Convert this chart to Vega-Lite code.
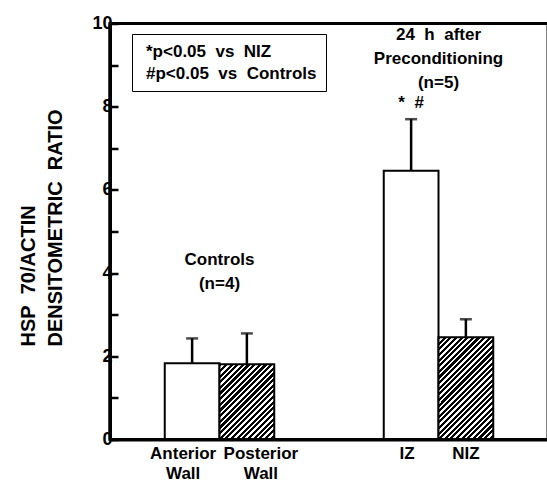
{
  "$schema": "https://vega.github.io/schema/vega-lite/v6.json",
  "width": 438,
  "height": 416,
  "autosize": {"type": "none"},
  "padding": {"left": 110, "top": 23.5, "right": 0, "bottom": 46},
  "config": {
    "font": "Liberation Sans",
    "view": {"stroke": "black", "strokeWidth": 3}
  },
  "datasets": {
    "bars": [
      {"cat": "Anterior Wall", "mean": 1.83, "upper": 2.43},
      {"cat": "Posterior Wall", "mean": 1.81, "upper": 2.55},
      {"cat": "IZ", "mean": 6.46, "upper": 7.70},
      {"cat": "NIZ", "mean": 2.46, "upper": 2.89}
    ],
    "edge": [{"cat": "_a"}]
  },
  "data": {"name": "bars"},
  "layer": [
    {
      "transform": [{"filter": "datum.cat === 'Anterior Wall' || datum.cat === 'IZ'"}],
      "mark": {"type": "bar", "fill": "white", "stroke": "black", "strokeWidth": 2},
      "encoding": {
        "x": {
          "field": "cat", "type": "nominal",
          "scale": {"domain": ["_a", "Anterior Wall", "Posterior Wall", "_b", "_c", "IZ", "NIZ", "_d"], "paddingInner": 0, "paddingOuter": 0},
          "axis": {
            "title": null, "ticks": false, "domainWidth": 3, "domainColor": "black",
            "labelExpr": "indexof(datum.value, '_') === 0 ? '' : split(datum.value, ' ')",
            "labelFontSize": 17, "labelFontWeight": "bold", "labelColor": "black",
            "labelLineHeight": 20, "labelPadding": 6, "labelAngle": 0, "labelBaseline": "top",
            "labelOffset": {"condition": [{"test": "datum.value === 'Anterior Wall'", "value": -9}, {"test": "datum.value === 'Posterior Wall'", "value": 14}, {"test": "datum.value === 'IZ'", "value": -4}], "value": 0}
          }
        },
        "y": {
          "field": "mean", "type": "quantitative",
          "scale": {"domain": [0, 10], "nice": false},
          "axis": {
            "title": ["HSP\u00a0 70/ACTIN", "DENSITOMETRIC\u00a0 RATIO"],
            "values": [0, 1, 2, 3, 4, 5, 6, 7, 8, 9, 10],
            "labelExpr": "datum.value % 2 === 0 ? datum.label : ''",
            "tickSize": -8, "tickWidth": 2.5, "tickColor": "black",
            "domainColor": "black", "domainWidth": 3, "grid": false,
            "labelFontSize": 18, "labelFontWeight": "bold", "labelColor": "black", "labelPadding": 6,
            "titleFontSize": 20, "titleFontWeight": "bold", "titleColor": "black", "titleLineHeight": 27,
            "titleX": -82, "titleY": 322.5, "titleAngle": -90, "titleAlign": "left", "titleBaseline": "middle"
          }
        }
      }
    },
    {
      "transform": [{"filter": "datum.cat === 'Posterior Wall'"}],
      "mark": {
        "type": "bar", "stroke": "black", "strokeWidth": 2,
        "fill": {
          "gradient": "linear", "x1": 0, "y1": 0, "x2": 0.8215, "y2": 1.1298,
          "stops": [
            {"offset": 0, "color": "#000"}, {"offset": 0.0239, "color": "#000"}, {"offset": 0.0239, "color": "#fff"}, {"offset": 0.0435, "color": "#fff"},
            {"offset": 0.0435, "color": "#000"}, {"offset": 0.0674, "color": "#000"}, {"offset": 0.0674, "color": "#fff"}, {"offset": 0.0870, "color": "#fff"},
            {"offset": 0.0870, "color": "#000"}, {"offset": 0.1109, "color": "#000"}, {"offset": 0.1109, "color": "#fff"}, {"offset": 0.1304, "color": "#fff"},
            {"offset": 0.1304, "color": "#000"}, {"offset": 0.1543, "color": "#000"}, {"offset": 0.1543, "color": "#fff"}, {"offset": 0.1739, "color": "#fff"},
            {"offset": 0.1739, "color": "#000"}, {"offset": 0.1978, "color": "#000"}, {"offset": 0.1978, "color": "#fff"}, {"offset": 0.2174, "color": "#fff"},
            {"offset": 0.2174, "color": "#000"}, {"offset": 0.2413, "color": "#000"}, {"offset": 0.2413, "color": "#fff"}, {"offset": 0.2609, "color": "#fff"},
            {"offset": 0.2609, "color": "#000"}, {"offset": 0.2848, "color": "#000"}, {"offset": 0.2848, "color": "#fff"}, {"offset": 0.3043, "color": "#fff"},
            {"offset": 0.3043, "color": "#000"}, {"offset": 0.3283, "color": "#000"}, {"offset": 0.3283, "color": "#fff"}, {"offset": 0.3478, "color": "#fff"},
            {"offset": 0.3478, "color": "#000"}, {"offset": 0.3717, "color": "#000"}, {"offset": 0.3717, "color": "#fff"}, {"offset": 0.3913, "color": "#fff"},
            {"offset": 0.3913, "color": "#000"}, {"offset": 0.4152, "color": "#000"}, {"offset": 0.4152, "color": "#fff"}, {"offset": 0.4348, "color": "#fff"},
            {"offset": 0.4348, "color": "#000"}, {"offset": 0.4587, "color": "#000"}, {"offset": 0.4587, "color": "#fff"}, {"offset": 0.4783, "color": "#fff"},
            {"offset": 0.4783, "color": "#000"}, {"offset": 0.5022, "color": "#000"}, {"offset": 0.5022, "color": "#fff"}, {"offset": 0.5217, "color": "#fff"},
            {"offset": 0.5217, "color": "#000"}, {"offset": 0.5457, "color": "#000"}, {"offset": 0.5457, "color": "#fff"}, {"offset": 0.5652, "color": "#fff"},
            {"offset": 0.5652, "color": "#000"}, {"offset": 0.5891, "color": "#000"}, {"offset": 0.5891, "color": "#fff"}, {"offset": 0.6087, "color": "#fff"},
            {"offset": 0.6087, "color": "#000"}, {"offset": 0.6326, "color": "#000"}, {"offset": 0.6326, "color": "#fff"}, {"offset": 0.6522, "color": "#fff"},
            {"offset": 0.6522, "color": "#000"}, {"offset": 0.6761, "color": "#000"}, {"offset": 0.6761, "color": "#fff"}, {"offset": 0.6957, "color": "#fff"},
            {"offset": 0.6957, "color": "#000"}, {"offset": 0.7196, "color": "#000"}, {"offset": 0.7196, "color": "#fff"}, {"offset": 0.7391, "color": "#fff"},
            {"offset": 0.7391, "color": "#000"}, {"offset": 0.7630, "color": "#000"}, {"offset": 0.7630, "color": "#fff"}, {"offset": 0.7826, "color": "#fff"},
            {"offset": 0.7826, "color": "#000"}, {"offset": 0.8065, "color": "#000"}, {"offset": 0.8065, "color": "#fff"}, {"offset": 0.8261, "color": "#fff"},
            {"offset": 0.8261, "color": "#000"}, {"offset": 0.8500, "color": "#000"}, {"offset": 0.8500, "color": "#fff"}, {"offset": 0.8696, "color": "#fff"},
            {"offset": 0.8696, "color": "#000"}, {"offset": 0.8935, "color": "#000"}, {"offset": 0.8935, "color": "#fff"}, {"offset": 0.9130, "color": "#fff"},
            {"offset": 0.9130, "color": "#000"}, {"offset": 0.9370, "color": "#000"}, {"offset": 0.9370, "color": "#fff"}, {"offset": 0.9565, "color": "#fff"},
            {"offset": 0.9565, "color": "#000"}, {"offset": 0.9804, "color": "#000"}, {"offset": 0.9804, "color": "#fff"}, {"offset": 1, "color": "#fff"}
          ]
        }
      },
      "encoding": {
        "x": {"field": "cat", "type": "nominal"},
        "y": {"field": "mean", "type": "quantitative"}
      }
    },
    {
      "transform": [{"filter": "datum.cat === 'NIZ'"}],
      "mark": {
        "type": "bar", "stroke": "black", "strokeWidth": 2,
        "fill": {
          "gradient": "linear", "x1": 0, "y1": 0, "x2": 0.6387, "y2": 1.1934,
          "stops": [
            {"offset": 0, "color": "#000"}, {"offset": 0.0196, "color": "#000"}, {"offset": 0.0196, "color": "#fff"}, {"offset": 0.0357, "color": "#fff"},
            {"offset": 0.0357, "color": "#000"}, {"offset": 0.0554, "color": "#000"}, {"offset": 0.0554, "color": "#fff"}, {"offset": 0.0714, "color": "#fff"},
            {"offset": 0.0714, "color": "#000"}, {"offset": 0.0911, "color": "#000"}, {"offset": 0.0911, "color": "#fff"}, {"offset": 0.1071, "color": "#fff"},
            {"offset": 0.1071, "color": "#000"}, {"offset": 0.1268, "color": "#000"}, {"offset": 0.1268, "color": "#fff"}, {"offset": 0.1429, "color": "#fff"},
            {"offset": 0.1429, "color": "#000"}, {"offset": 0.1625, "color": "#000"}, {"offset": 0.1625, "color": "#fff"}, {"offset": 0.1786, "color": "#fff"},
            {"offset": 0.1786, "color": "#000"}, {"offset": 0.1982, "color": "#000"}, {"offset": 0.1982, "color": "#fff"}, {"offset": 0.2143, "color": "#fff"},
            {"offset": 0.2143, "color": "#000"}, {"offset": 0.2339, "color": "#000"}, {"offset": 0.2339, "color": "#fff"}, {"offset": 0.2500, "color": "#fff"},
            {"offset": 0.2500, "color": "#000"}, {"offset": 0.2696, "color": "#000"}, {"offset": 0.2696, "color": "#fff"}, {"offset": 0.2857, "color": "#fff"},
            {"offset": 0.2857, "color": "#000"}, {"offset": 0.3054, "color": "#000"}, {"offset": 0.3054, "color": "#fff"}, {"offset": 0.3214, "color": "#fff"},
            {"offset": 0.3214, "color": "#000"}, {"offset": 0.3411, "color": "#000"}, {"offset": 0.3411, "color": "#fff"}, {"offset": 0.3571, "color": "#fff"},
            {"offset": 0.3571, "color": "#000"}, {"offset": 0.3768, "color": "#000"}, {"offset": 0.3768, "color": "#fff"}, {"offset": 0.3929, "color": "#fff"},
            {"offset": 0.3929, "color": "#000"}, {"offset": 0.4125, "color": "#000"}, {"offset": 0.4125, "color": "#fff"}, {"offset": 0.4286, "color": "#fff"},
            {"offset": 0.4286, "color": "#000"}, {"offset": 0.4482, "color": "#000"}, {"offset": 0.4482, "color": "#fff"}, {"offset": 0.4643, "color": "#fff"},
            {"offset": 0.4643, "color": "#000"}, {"offset": 0.4839, "color": "#000"}, {"offset": 0.4839, "color": "#fff"}, {"offset": 0.5000, "color": "#fff"},
            {"offset": 0.5000, "color": "#000"}, {"offset": 0.5196, "color": "#000"}, {"offset": 0.5196, "color": "#fff"}, {"offset": 0.5357, "color": "#fff"},
            {"offset": 0.5357, "color": "#000"}, {"offset": 0.5554, "color": "#000"}, {"offset": 0.5554, "color": "#fff"}, {"offset": 0.5714, "color": "#fff"},
            {"offset": 0.5714, "color": "#000"}, {"offset": 0.5911, "color": "#000"}, {"offset": 0.5911, "color": "#fff"}, {"offset": 0.6071, "color": "#fff"},
            {"offset": 0.6071, "color": "#000"}, {"offset": 0.6268, "color": "#000"}, {"offset": 0.6268, "color": "#fff"}, {"offset": 0.6429, "color": "#fff"},
            {"offset": 0.6429, "color": "#000"}, {"offset": 0.6625, "color": "#000"}, {"offset": 0.6625, "color": "#fff"}, {"offset": 0.6786, "color": "#fff"},
            {"offset": 0.6786, "color": "#000"}, {"offset": 0.6982, "color": "#000"}, {"offset": 0.6982, "color": "#fff"}, {"offset": 0.7143, "color": "#fff"},
            {"offset": 0.7143, "color": "#000"}, {"offset": 0.7339, "color": "#000"}, {"offset": 0.7339, "color": "#fff"}, {"offset": 0.7500, "color": "#fff"},
            {"offset": 0.7500, "color": "#000"}, {"offset": 0.7696, "color": "#000"}, {"offset": 0.7696, "color": "#fff"}, {"offset": 0.7857, "color": "#fff"},
            {"offset": 0.7857, "color": "#000"}, {"offset": 0.8054, "color": "#000"}, {"offset": 0.8054, "color": "#fff"}, {"offset": 0.8214, "color": "#fff"},
            {"offset": 0.8214, "color": "#000"}, {"offset": 0.8411, "color": "#000"}, {"offset": 0.8411, "color": "#fff"}, {"offset": 0.8571, "color": "#fff"},
            {"offset": 0.8571, "color": "#000"}, {"offset": 0.8768, "color": "#000"}, {"offset": 0.8768, "color": "#fff"}, {"offset": 0.8929, "color": "#fff"},
            {"offset": 0.8929, "color": "#000"}, {"offset": 0.9125, "color": "#000"}, {"offset": 0.9125, "color": "#fff"}, {"offset": 0.9286, "color": "#fff"},
            {"offset": 0.9286, "color": "#000"}, {"offset": 0.9482, "color": "#000"}, {"offset": 0.9482, "color": "#fff"}, {"offset": 0.9643, "color": "#fff"},
            {"offset": 0.9643, "color": "#000"}, {"offset": 0.9839, "color": "#000"}, {"offset": 0.9839, "color": "#fff"}, {"offset": 1, "color": "#fff"}
          ]
        }
      },
      "encoding": {
        "x": {"field": "cat", "type": "nominal"},
        "y": {"field": "mean", "type": "quantitative"}
      }
    },
    {
      "mark": {"type": "rule", "color": "black", "strokeWidth": 2.5},
      "encoding": {
        "x": {"field": "cat", "type": "nominal"},
        "y": {"field": "mean", "type": "quantitative"},
        "y2": {"field": "upper"}
      }
    },
    {
      "mark": {"type": "tick", "color": "black", "size": 12, "thickness": 2.5},
      "encoding": {
        "x": {"field": "cat", "type": "nominal"},
        "y": {"field": "upper", "type": "quantitative"}
      }
    },
    {
      "mark": {"type": "rule", "color": "black", "strokeWidth": 3},
      "encoding": {"y": {"datum": 10, "type": "quantitative"}}
    },
    {
      "mark": {"type": "rule", "color": "black", "strokeWidth": 3},
      "encoding": {"y": {"datum": 0, "type": "quantitative"}}
    },
    {
      "data": {"name": "edge"},
      "mark": {"type": "rule", "color": "black", "strokeWidth": 3},
      "encoding": {"x": {"field": "cat", "type": "nominal", "bandPosition": 0}}
    },
    {
      "data": {
        "values": [
          {"cat": "Posterior Wall", "ypos": 4.31, "label": "Controls\n(n=4)"},
          {"cat": "NIZ", "ypos": 9.72, "label": "24\u00a0 h\u00a0 after\nPreconditioning\n(n=5)"}
        ]
      },
      "mark": {"type": "text", "font": "Liberation Sans", "fontSize": 17, "fontWeight": "bold", "color": "black", "lineBreak": "\n", "lineHeight": 24, "baseline": "middle", "align": "center"},
      "encoding": {
        "x": {"field": "cat", "type": "nominal", "bandPosition": 0},
        "y": {"field": "ypos", "type": "quantitative"},
        "text": {"field": "label"}
      }
    },
    {
      "data": {"values": [{"cat": "IZ", "ypos": 8.09, "label": "*\u00a0 #"}]},
      "mark": {"type": "text", "font": "Liberation Sans", "fontSize": 17, "fontWeight": "bold", "color": "black", "baseline": "middle", "align": "center"},
      "encoding": {
        "x": {"field": "cat", "type": "nominal"},
        "y": {"field": "ypos", "type": "quantitative"},
        "text": {"field": "label"}
      }
    },
    {
      "data": {"values": [{"note": "*p<0.05\u00a0 vs\u00a0 NIZ"}, {"note": "#p<0.05\u00a0 vs\u00a0 Controls"}]},
      "mark": {"type": "point", "opacity": 0},
      "encoding": {
        "shape": {
          "field": "note", "type": "nominal",
          "scale": {"domain": ["*p<0.05\u00a0 vs\u00a0 NIZ", "#p<0.05\u00a0 vs\u00a0 Controls"]},
          "legend": {
            "title": null, "orient": "none", "legendX": 22, "legendY": 10.5,
            "symbolSize": 0, "symbolOpacity": 0, "symbolStrokeWidth": 0,
            "labelFont": "Liberation Sans", "labelFontSize": 17, "labelFontWeight": "bold", "labelColor": "black",
            "labelOffset": -12, "padding": 9, "rowPadding": 4, "strokeColor": "black", "labelLimit": 400
          }
        }
      }
    }
  ]
}
